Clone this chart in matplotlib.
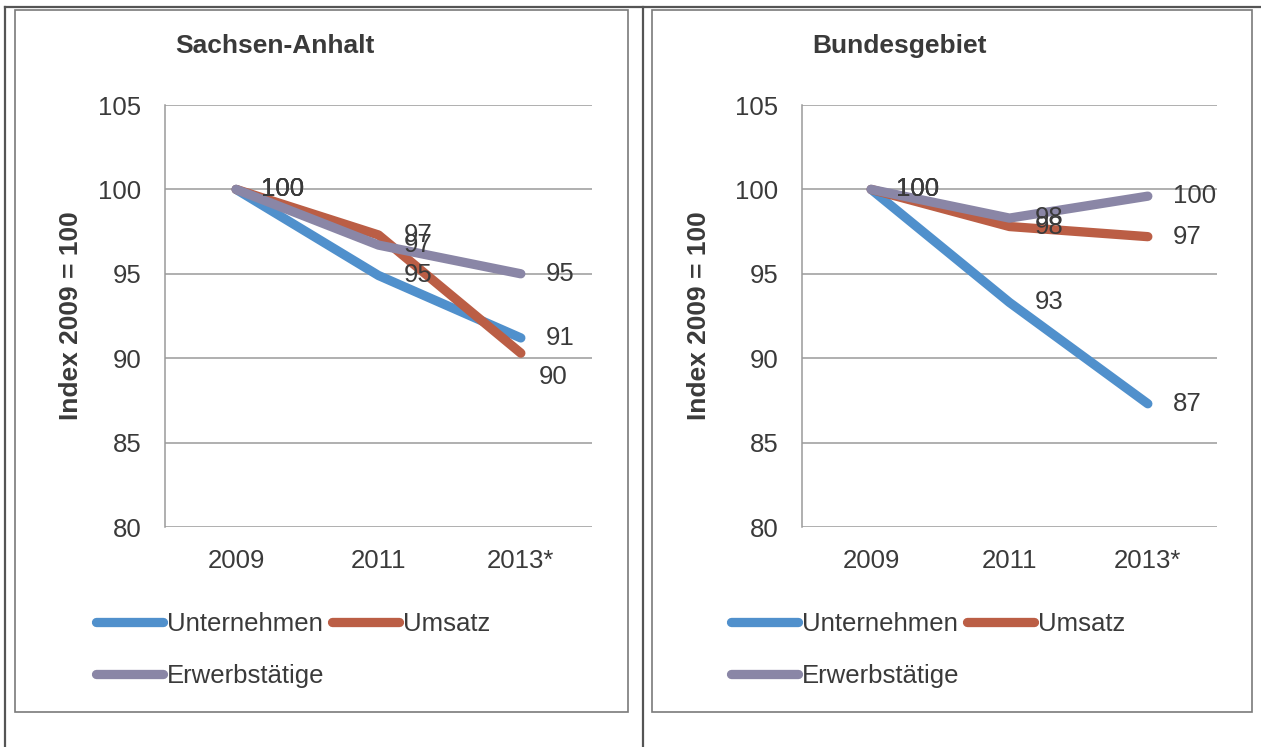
import matplotlib.pyplot as plt
from matplotlib.lines import Line2D
from matplotlib.patches import Rectangle

plt.rcParams['font.family'] = ['Liberation Sans', 'DejaVu Sans']

jahre = ['2009', '2011', '2013*']
reihen = ['Unternehmen', 'Umsatz', 'Erwerbstätige']

# Index 2009 = 100
sa_unternehmen = [100, 94.9, 91.2]
sa_umsatz = [100, 97.3, 90.3]
sa_erwerb = [100, 96.7, 95.0]

bund_unternehmen = [100, 93.3, 87.3]
bund_umsatz = [100, 97.8, 97.2]
bund_erwerb = [100, 98.3, 99.6]

farben = ['#5090cc', '#bb5e45', '#8a86a6']
textfarbe = '#3a3a3a'
W, H = 1261, 747

fig = plt.figure(figsize=(W / 100, H / 100), dpi=100)
fig.patch.set_facecolor('white')


def fx(px):
    return px / W


def fy(py):
    return 1 - py / H


# Tabellenlinien und Rahmen der beiden Diagramme
for x in (5, 643):
    fig.add_artist(Line2D([fx(x), fx(x)], [0, fy(7)], color='#555555', lw=1.6))
fig.add_artist(Line2D([fx(5), 1], [fy(7), fy(7)], color='#555555', lw=1.6))
for x0, x1 in ((15, 628), (652, 1252)):
    fig.add_artist(Rectangle((fx(x0), fy(712)), fx(x1 - x0), (712 - 10) / H,
                             fill=False, ec='#7a7a7a', lw=1.2))


def panel(left, right, titel, daten, ylabel_x, legend_x, versatz):
    ax = fig.add_axes([fx(left), fy(527), fx(right - left), (527 - 105) / H])
    x = range(len(jahre))
    linien = []
    for werte, name, farbe in zip(daten, reihen, farben):
        l, = ax.plot(x, werte, color=farbe, lw=6.7, solid_capstyle='round',
                     solid_joinstyle='round', label=name, zorder=3)
        linien.append(l)
    for werte, name in zip(daten, reihen):
        for i, v in enumerate(werte):
            dx, dy = versatz.get((name, i), (18, 0))
            ax.annotate(f'{v:.0f}', (i, v), xytext=(dx, dy), textcoords='offset points',
                        ha='left', va='center', fontsize=18.5, color=textfarbe, zorder=4)
    ax.set_xlim(-0.5, 2.5)
    ax.set_ylim(80, 105)
    ax.set_yticks(range(80, 106, 5))
    ax.set_xticks(list(x))
    ax.set_xticklabels(jahre)
    ax.grid(axis='y', color='#9a9a9a', lw=1.1)
    ax.set_axisbelow(True)
    for s in ('top', 'right', 'bottom'):
        ax.spines[s].set_visible(False)
    ax.spines['left'].set_color('#9a9a9a')
    ax.spines['left'].set_linewidth(1.1)
    ax.tick_params(length=0, labelsize=18.5, labelcolor=textfarbe)
    ax.tick_params(axis='y', pad=17)
    ax.tick_params(axis='x', pad=16)
    fig.text(fx(left + 10), fy(46), titel, fontsize=19, fontweight='bold',
             color=textfarbe, ha='left', va='center')
    fig.text(fx(ylabel_x), fy(316), 'Index 2009 = 100', fontsize=19, fontweight='bold',
             color=textfarbe, rotation=90, ha='center', va='center')
    # Legende zeilenweise: Unternehmen, Umsatz / Erwerbstätige
    reihenfolge = [0, 2, 1]
    leg = ax.legend([linien[i] for i in reihenfolge], [reihen[i] for i in reihenfolge],
                    loc='upper left', bbox_to_anchor=(fx(legend_x), fy(612)),
                    bbox_transform=fig.transFigure, ncol=2, frameon=False,
                    fontsize=18.5, handlelength=2.6, handletextpad=0.15,
                    columnspacing=0.3, labelspacing=1.1, borderpad=0, borderaxespad=0)
    for t in leg.get_texts():
        t.set_color(textfarbe)
    for h in leg.legend_handles:
        h.set_solid_capstyle('round')
    return ax


panel(165, 592, 'Sachsen-Anhalt', [sa_unternehmen, sa_umsatz, sa_erwerb], 71, 96,
      {('Umsatz', 2): (13, -17)})
panel(802, 1217, 'Bundesgebiet', [bund_unternehmen, bund_umsatz, bund_erwerb], 699, 731, {})

fig.savefig('out.png', dpi=100)
